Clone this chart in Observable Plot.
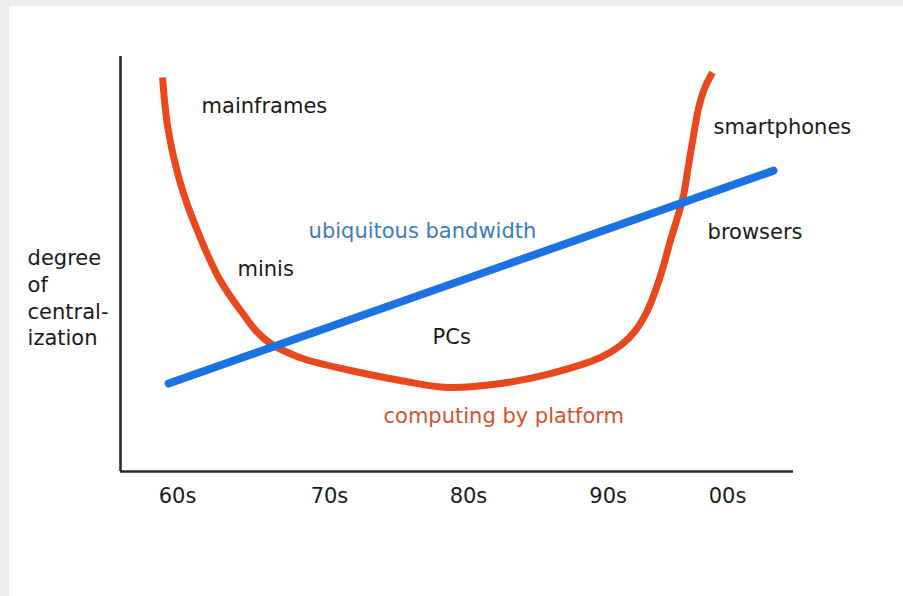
<!DOCTYPE html>
<html><head><meta charset="utf-8">
<script src="https://cdn.jsdelivr.net/npm/d3@7"></script>
<script src="https://cdn.jsdelivr.net/npm/@observablehq/plot@0.6"></script>
<style>
html,body{margin:0;padding:0;background:#ececec;width:903px;height:596px;overflow:hidden;}
#panel{position:absolute;left:9px;top:6px;width:894px;height:590px;background:#fff;}
</style></head><body><div id="panel"></div>
<script>
// x: year, y: degree of centralization (0-100, arbitrary)
const tickLabels = ["60s", "70s", "80s", "90s", "00s"];
const tickYears = [1960, 1971.05, 1981.16, 1991.32, 2000];
const xDomain = [1955.85, 2004.8];
const yDomain = [0, 100];

const platformYears = [1958.91, 1959.05, 1959.27, 1959.64, 1960.15, 1960.73, 1961.38, 1962.11, 1962.98, 1963.85,
  1964.80, 1965.75, 1966.76, 1968.00, 1969.31, 1972.58, 1976.22, 1979.64, 1983.49, 1987.13, 1990.76,
  1992.22, 1993.31, 1994.18, 1994.84, 1995.35, 1995.85, 1996.36, 1996.80, 1997.16, 1997.53,
  1997.89, 1998.33, 1998.91];
const platformValues = [94.94, 89.40, 83.37, 76.87, 70.12, 64.10, 58.55, 52.77, 46.75, 42.17,
  37.83, 33.73, 30.84, 28.67, 26.99, 24.34, 21.93, 20.24, 21.20, 23.61, 27.47,
  30.36, 33.98, 38.80, 44.34, 49.64, 55.66, 61.20, 66.51, 73.73, 80.96,
  87.47, 92.29, 96.14];

const bandwidthYears = [1959.35, 2003.35];
const bandwidthValues = [21.2, 72.5];

const eraNames = ["mainframes", "minis", "PCs", "smartphones", "browsers"];
const eraYears = [1961.75, 1964.36, 1978.55, 1998.98, 1998.55];
const eraValues = [88.12, 48.84, 32.46, 83.06, 57.76];

const bandwidthLabel = ["ubiquitous bandwidth"];
const bandwidthLabelYear = [1969.53];
const bandwidthLabelValue = [58.0];

const platformLabel = ["computing by platform"];
const platformLabelYear = [1974.98];
const platformLabelValue = [13.42];

const yLabel = ["degree\nof\ncentral-\nization"];
const yLabelYear = [1949.09];
const yLabelValue = [42.1];

const platform = platformYears.map((x, i) => ({x, y: platformValues[i]}));
const bandwidth = bandwidthYears.map((x, i) => ({x, y: bandwidthValues[i]}));
const tickMap = new Map(tickYears.map((t, i) => [t, tickLabels[i]]));

const font = "DejaVu Sans, Verdana, sans-serif";
const plot = Plot.plot({
  width: 894,
  height: 590,
  marginLeft: 111,
  marginRight: 110,
  marginTop: 50,
  marginBottom: 125,
  style: {fontFamily: font, fontSize: "21px", background: "white", overflow: "visible"},
  x: {domain: xDomain, axis: null},
  y: {domain: yDomain, axis: null},
  marks: [
    Plot.axisX(tickYears, {tickSize: 0, tickPadding: 17, fontSize: 21, fill: "#1a1a1a",
      tickFormat: d => tickMap.get(d), anchor: "bottom", label: null}),
    Plot.ruleY([yDomain[0]], {stroke: "#2a2a2a", strokeWidth: 2.6}),
    Plot.ruleX([xDomain[0]], {stroke: "#2a2a2a", strokeWidth: 2.6}),
    Plot.line(platform, {x: "x", y: "y", curve: "catmull-rom", stroke: "#e9471c", strokeWidth: 7, strokeLinecap: "butt"}),
    Plot.line(bandwidth, {x: "x", y: "y", stroke: "#1c72e3", strokeWidth: 8, strokeLinecap: "round"}),
    Plot.text(eraNames, {x: (d, i) => eraYears[i], y: (d, i) => eraValues[i], text: d => d,
      textAnchor: "start", fontSize: 21, fill: "#1a1a1a"}),
    Plot.text(bandwidthLabel, {x: (d, i) => bandwidthLabelYear[i], y: (d, i) => bandwidthLabelValue[i], text: d => d,
      textAnchor: "start", fontSize: 21, fill: "#3b7cc2"}),
    Plot.text(platformLabel, {x: (d, i) => platformLabelYear[i], y: (d, i) => platformLabelValue[i], text: d => d,
      textAnchor: "start", fontSize: 21, fill: "#d4522d"}),
    Plot.text(yLabel, {x: (d, i) => yLabelYear[i], y: (d, i) => yLabelValue[i], text: d => d,
      textAnchor: "start", fontSize: 21, lineHeight: 1.27, fill: "#1a1a1a"})
  ]
});
document.getElementById("panel").appendChild(plot);
</script>
</body></html>
